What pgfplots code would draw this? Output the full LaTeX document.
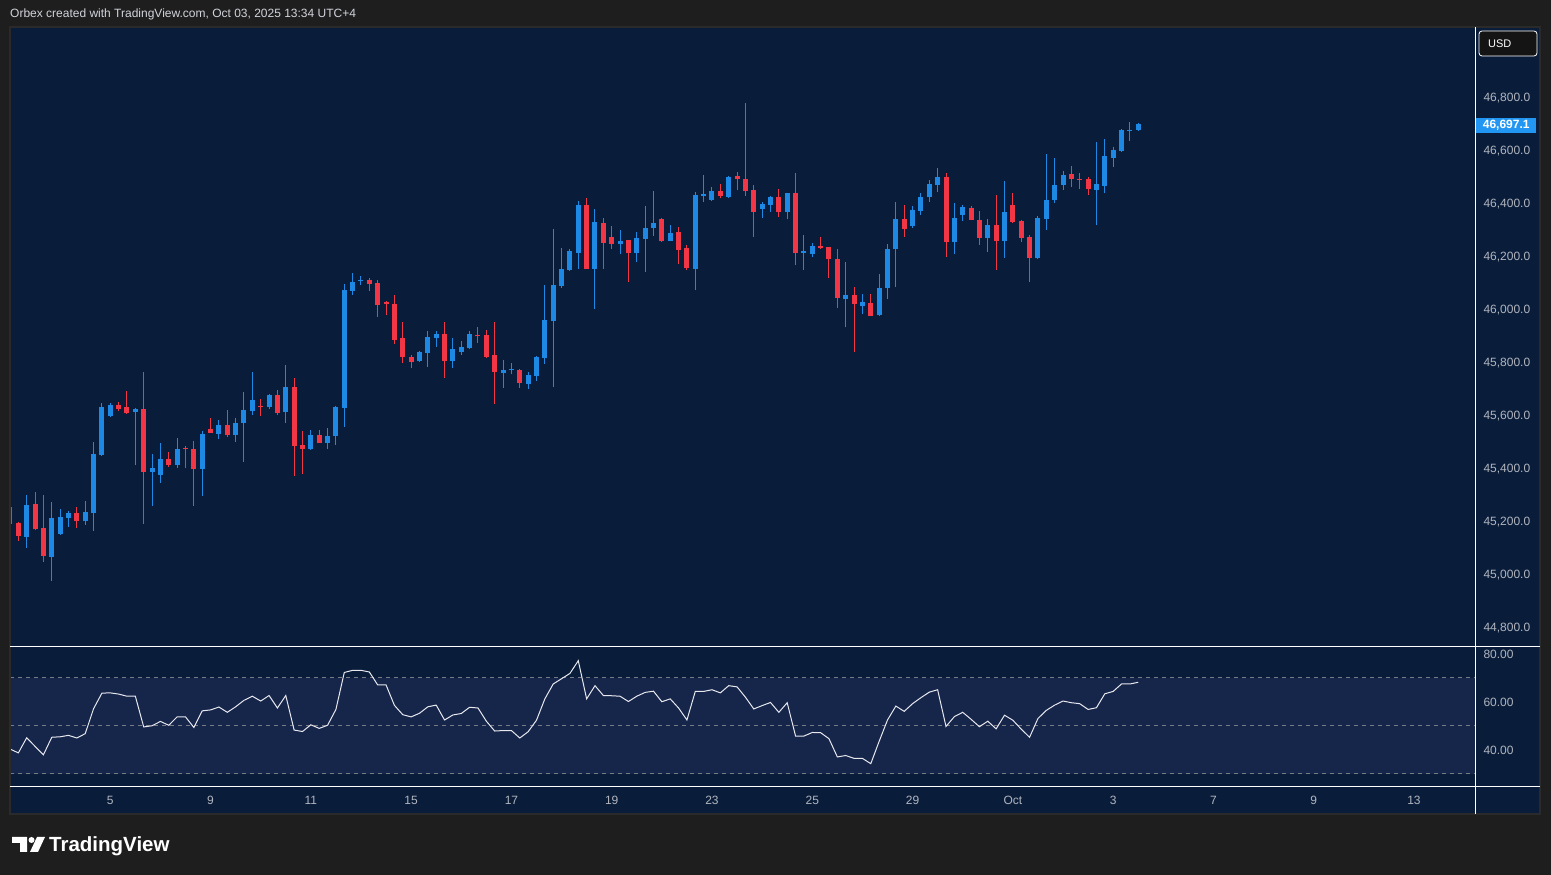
\documentclass[border=0pt]{standalone}
\usepackage{fontspec}
\setmainfont{Liberation Sans}
\usepackage{pgfplots}
\pgfplotsset{compat=1.18}
\usepackage{pgfplotstable}

\definecolor{outer}{HTML}{1E1E1E}
\definecolor{navy}{HTML}{091D3B}
\definecolor{band}{HTML}{16254A}
\definecolor{upc}{HTML}{1E88E5}
\definecolor{dnc}{HTML}{F23645}
\definecolor{tick}{HTML}{B2B5BE}
\definecolor{dashc}{HTML}{787B86}
\definecolor{framec}{HTML}{2A2A2A}
\definecolor{lastp}{HTML}{2196F3}
\definecolor{toptxt}{HTML}{D1D4DC}
\definecolor{rsic}{HTML}{E6E8EE}

\newcommand\tl{\fontsize{12}{14}\selectfont}

% 4h candles, x = candle number (6 per day)
\pgfplotstableread{
x o h l c
2 45139 45298 45099 45260
5 45065 45271 44974 45211
6 45152 45245 45148 45214
7 45212 45237 45178 45230
9 45201 45275 45186 45233
10 45231 45498 45163 45452
11 45450 45645 45446 45630
12 45597 45645 45593 45637
15 45612 45626 45411 45622
17 45386 45452 45257 45399
18 45374 45494 45344 45433
20 45412 45513 45401 45471
23 45397 45539 45295 45528
25 45528 45581 45509 45562
27 45524 45588 45498 45569
28 45569 45686 45423 45618
29 45615 45762 45599 45656
31 45630 45679 45622 45675
33 45611 45788 45569 45705
36 45471 45543 45467 45524
38 45494 45550 45471 45520
39 45520 45632 45486 45630
40 45628 46094 45554 46072
41 46068 46136 46053 46102
42 46105 46125 46091 46110
49 45804 45842 45800 45838
50 45834 45917 45781 45894
51 45891 45917 45857 45906
53 45804 45891 45777 45849
54 45838 45879 45826 45857
55 45853 45917 45849 45906
59 45759 45808 45702 45770
60 45768 45796 45755 45773
62 45717 45762 45698 45751
63 45747 45823 45728 45819
64 45815 46091 45793 45959
65 45955 46302 45706 46091
66 46087 46230 46079 46151
67 46147 46227 46145 46219
68 46212 46408 46151 46393
70 46151 46378 46000 46328
73 46245 46298 46208 46257
75 46211 46291 46178 46268
76 46264 46389 46140 46306
77 46306 46445 46276 46325
79 46257 46317 46255 46287
82 46151 46442 46072 46430
83 46428 46505 46403 46433
84 46411 46460 46407 46445
86 46422 46501 46420 46498
90 46377 46403 46343 46396
91 46392 46426 46365 46422
93 46365 46439 46339 46437
95 46212 46279 46147 46217
96 46207 46248 46196 46237
100 46037 46177 45931 46052
102 46011 46056 45980 46026
104 45977 46131 45973 46079
105 46079 46245 46037 46226
106 46226 46403 46082 46339
108 46313 46388 46305 46373
109 46369 46437 46354 46422
110 46422 46486 46403 46471
111 46467 46532 46441 46498
113 46253 46400 46208 46343
114 46355 46392 46332 46385
117 46268 46340 46215 46317
119 46257 46483 46192 46366
123 46192 46351 46189 46343
124 46340 46585 46298 46411
125 46411 46570 46400 46468
126 46468 46521 46449 46506
130 46449 46630 46317 46472
131 46464 46642 46438 46577
132 46570 46611 46536 46600
133 46596 46678 46592 46676
134 46672 46706 46634 46677
135 46675 46700 46672 46697
}\up

\pgfplotstableread{
x o h l c
0 45252 45262 45180 45189
1 45192 45196 45124 45144
3 45264 45309 45167 45169
4 45173 45298 45046 45069
8 45230 45252 45174 45201
13 45637 45648 45616 45623
14 45630 45690 45603 45606
16 45622 45762 45189 45386
19 45433 45460 45404 45412
21 45476 45482 45401 45471
22 45471 45501 45257 45397
24 45547 45588 45531 45531
26 45562 45618 45516 45524
30 45634 45660 45596 45629
32 45675 45694 45599 45607
34 45705 45739 45369 45482
35 45486 45539 45377 45471
37 45524 45543 45494 45494
43 46109 46117 46068 46094
44 46098 46110 45970 46015
45 46025 46030 45977 46020
46 46019 46053 45868 45883
47 45891 45951 45796 45819
48 45819 45826 45777 45800
52 45906 45951 45740 45804
56 45902 45932 45872 45897
57 45902 45921 45815 45819
58 45826 45951 45642 45762
61 45770 45774 45702 45721
69 46393 46419 46151 46151
71 46325 46344 46151 46249
72 46272 46313 46227 46245
74 46261 46261 46102 46211
78 46340 46344 46253 46257
80 46291 46310 46170 46223
81 46230 46242 46147 46155
85 46445 46471 46418 46426
87 46501 46516 46448 46490
88 46490 46777 46426 46445
89 46448 46467 46271 46365
92 46422 46452 46347 46365
94 46437 46513 46165 46211
97 46237 46271 46226 46230
98 46233 46233 46116 46188
99 46188 46226 46003 46041
101 46052 46082 45837 46018
103 46022 46056 45973 45973
107 46339 46392 46271 46301
112 46498 46513 46196 46253
115 46381 46389 46336 46336
116 46336 46370 46242 46268
118 46317 46430 46147 46257
120 46392 46438 46325 46328
121 46332 46336 46253 46268
122 46272 46279 46102 46192
127 46509 46540 46460 46491
128 46492 46513 46453 46487
129 46491 46498 46430 46453
}\down

\pgfplotstableread{
x r
0 40.4
1 38.8
2 45.1
3 41.5
4 38.0
5 45.3
6 45.5
7 46.1
8 45.0
9 46.8
10 57.2
11 63.7
12 63.8
13 63.3
14 62.4
15 62.4
16 49.6
17 50.1
18 51.9
19 50.3
20 53.8
21 53.8
22 49.4
23 56.3
24 56.7
25 57.9
26 55.7
27 58.0
28 60.7
29 62.4
30 60.4
31 62.7
32 57.5
33 62.7
34 48.3
35 47.7
36 50.5
37 49.0
38 50.3
39 56.9
40 72.3
41 73.2
42 73.2
43 72.5
44 67.1
45 67.1
46 58.6
47 54.7
48 53.8
49 55.3
50 58.0
51 58.7
52 52.5
53 54.6
54 55.2
55 57.8
56 57.5
57 52.0
58 47.9
59 48.1
60 48.1
61 45.0
62 47.6
63 52.4
64 61.3
65 67.5
66 69.7
67 71.9
68 77.2
69 61.3
70 66.8
71 62.7
72 62.6
73 62.4
74 60.2
75 62.4
76 64.0
77 64.5
78 60.1
79 61.3
80 57.5
81 52.5
82 64.4
83 64.4
84 65.1
85 63.8
86 66.8
87 66.3
88 62.0
89 57.1
90 58.5
91 59.8
92 55.7
93 59.7
94 45.8
95 45.8
96 47.3
97 47.2
98 44.7
99 37.1
100 37.7
101 36.5
102 36.5
103 34.3
104 43.6
105 52.5
106 58.3
107 56.1
108 59.3
109 61.8
110 64.1
111 65.1
112 49.8
113 53.9
114 55.7
115 52.8
116 49.7
117 52.0
118 48.8
119 54.5
120 52.4
121 48.7
122 45.3
123 53.1
124 56.5
125 58.7
126 60.4
127 59.7
128 59.3
129 56.9
130 57.6
131 63.4
132 64.4
133 67.5
134 67.5
135 68.2
}\rsi

\begin{document}
\begin{tikzpicture}[x=1pt,y=1pt]
\fill[outer] (0,0) rectangle (1551,875);
\fill[navy] (10,61) rectangle (1540,848);
\draw[framec, line width=1.5pt] (10,61) rectangle (1540,848);
\node[anchor=base west, text=toptxt, font=\fontsize{12}{14}\selectfont, inner sep=0] at (10,857) {Orbex created with TradingView.com, Oct 03, 2025 13:34 UTC+4};

% price panel
\begin{axis}[
  at={(11pt,228pt)}, anchor=south west, scale only axis,
  width=1464pt, height=620pt,
  xmin=0.12, xmax=175.3, ymin=44724.3, ymax=47064.2,
  axis line style={draw=none}, tick style={draw=none},
  xtick=\empty,
  ytick={44800,45000,...,46800},
  scaled y ticks=false,
  yticklabel pos=right,
  yticklabel style={anchor=base west, xshift=5pt, yshift=-4.3pt, font=\tl, text=tick,
    /pgf/number format/fixed, /pgf/number format/fixed zerofill,
    /pgf/number format/precision=1, /pgf/number format/1000 sep={,},
    /pgf/number format/assume math mode=true},
]
% wicks
\addplot[draw=none, mark=none, forget plot, error bars/.cd, y dir=plus, y explicit, error mark=none,
  error bar style={draw=upc, line width=1pt}]
  table[x=x, y=l, y error plus expr=\thisrow{h}-\thisrow{l}] {\up};
\addplot[draw=none, mark=none, forget plot, error bars/.cd, y dir=plus, y explicit, error mark=none,
  error bar style={draw=dnc, line width=1pt}]
  table[x=x, y=l, y error plus expr=\thisrow{h}-\thisrow{l}] {\down};
% bodies
\addplot[draw=none, mark=none, forget plot, error bars/.cd, y dir=plus, y explicit, error mark=none,
  error bar style={draw=upc, line width=5pt}]
  table[x=x, y=o, y error plus expr=\thisrow{c}-\thisrow{o}] {\up};
\addplot[draw=none, mark=none, forget plot, error bars/.cd, y dir=plus, y explicit, error mark=none,
  error bar style={draw=dnc, line width=5pt}]
  table[x=x, y=c, y error plus expr=\thisrow{o}-\thisrow{c}] {\down};
\end{axis}

% RSI panel
\begin{axis}[
  at={(11pt,88pt)}, anchor=south west, scale only axis,
  width=1464pt, height=139pt,
  xmin=0.12, xmax=175.3, ymin=24.58, ymax=82.5,
  axis line style={draw=none}, tick style={draw=none},
  xtick={12,24,...,168},
  xticklabels={5,9,11,15,17,19,23,25,29,Oct,3,7,9,13},
  xticklabel style={anchor=base, yshift=-17.3pt, font=\tl, text=tick},
  ytick={40,60,80},
  yticklabel pos=right,
  yticklabel style={anchor=base west, xshift=5pt, yshift=-4.3pt, font=\tl, text=tick,
    /pgf/number format/fixed, /pgf/number format/fixed zerofill,
    /pgf/number format/precision=2, /pgf/number format/assume math mode=true},
]
\addplot[fill=band, draw=none, forget plot] coordinates {(0,30) (176,30) (176,70) (0,70)};
\addplot[dashc, line width=1pt, dash pattern=on 4pt off 4pt, forget plot] coordinates {(0,70) (176,70)};
\addplot[dashc, line width=1pt, dash pattern=on 4pt off 4pt, forget plot] coordinates {(0,50) (176,50)};
\addplot[dashc, line width=1pt, dash pattern=on 4pt off 4pt, forget plot] coordinates {(0,30) (176,30)};
\addplot[rsic, line width=1pt, mark=none] table[x=x, y=r] {\rsi};
\end{axis}

% pane separators
\draw[white, line width=1pt] (10,228) -- (1540,228);
\draw[white, line width=1pt] (10,88) -- (1540,88);
\draw[white, line width=1pt] (1475,61) -- (1475,848);

% last price tag
\node[fill=lastp, text=white, font=\bfseries\tl, anchor=west, minimum width=60pt,
  minimum height=15pt, inner sep=0] at (1476,749.5) {46,697.1};

% currency box
\draw[fill=black!92, draw=white!22, rounded corners=3pt, line width=0.8pt] (1479,819) rectangle (1537,844);
\node[anchor=base west, text=white!90, font=\fontsize{11}{13}\selectfont, inner sep=0] at (1488,827.5) {USD};

% TradingView logo
\fill[white!94] (12,38) -- (27,38) -- (27,23) -- (20,23) -- (20,32) -- (12,32) -- cycle;
\fill[white!94] (31.5,35) circle (3);
\fill[white!94] (37,38) -- (45,38) -- (38,23) -- (30,23) -- cycle;
\node[anchor=base west, text=white!94, font=\bfseries\fontsize{20.5}{24}\selectfont, inner sep=0] at (49,23) {TradingView};
\end{tikzpicture}
\end{document}
